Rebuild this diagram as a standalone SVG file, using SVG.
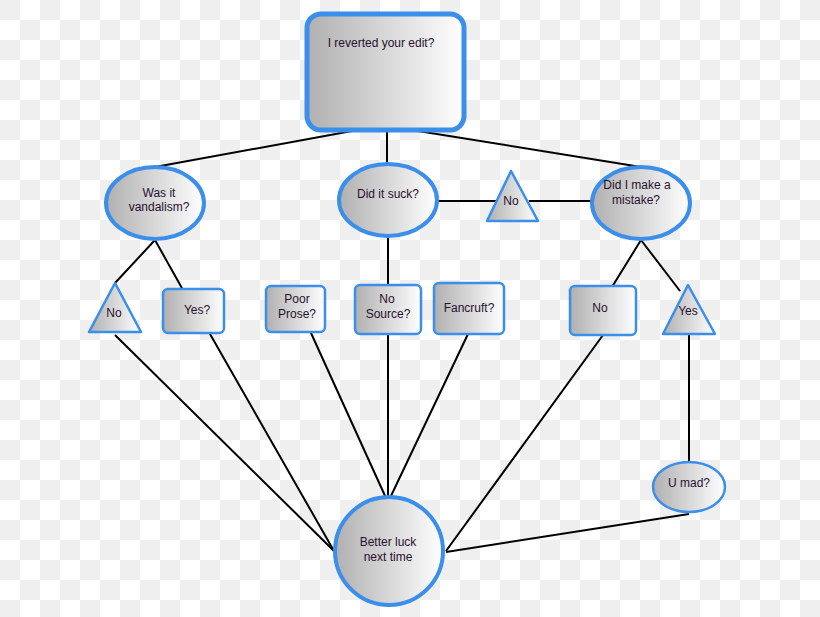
<svg xmlns="http://www.w3.org/2000/svg" width="820" height="617" viewBox="0 0 820 617">
<defs>
<pattern id="cb" width="40" height="40" patternUnits="userSpaceOnUse">
<rect width="40" height="40" fill="#ffffff"/>
<rect width="20" height="20" fill="#efefef"/>
<rect x="20" y="20" width="20" height="20" fill="#efefef"/>
</pattern>
<linearGradient id="g" x1="0" y1="0" x2="1" y2="0">
<stop offset="0" stop-color="#b0b0b0"/>
<stop offset="1" stop-color="#ffffff"/>
</linearGradient>
</defs>
<style>
.n{fill:url(#g);stroke:#3b8fea;stroke-linejoin:round}
.big{stroke-width:5}
.mid{stroke-width:4}
.sm{stroke-width:2.5}
.c line{stroke:#000;stroke-width:2}
text{font-family:"Liberation Sans",Arial,sans-serif;font-size:12px;fill:#2a1030;text-anchor:middle}
</style>
<rect width="820" height="617" fill="url(#cb)"/>
<g id="connectors" class="c">
<line x1="352" y1="131" x2="155" y2="167"/>
<line x1="387" y1="131" x2="387" y2="165"/>
<line x1="418" y1="131" x2="641" y2="167"/>
<line x1="437" y1="201" x2="496" y2="201"/>
<line x1="529" y1="201" x2="592" y2="201"/>
<line x1="155" y1="240" x2="115" y2="283"/>
<line x1="155" y1="240" x2="183" y2="290"/>
<line x1="388" y1="237" x2="388" y2="285"/>
<line x1="641" y1="240" x2="612" y2="287"/>
<line x1="641" y1="240" x2="680" y2="291"/>
<line x1="689" y1="335" x2="689" y2="462"/>
<line x1="115" y1="335" x2="334" y2="551"/>
<line x1="210" y1="334" x2="334" y2="551"/>
<line x1="311" y1="333" x2="386" y2="498"/>
<line x1="388" y1="334" x2="388" y2="498"/>
<line x1="468" y1="334" x2="390" y2="498"/>
<line x1="603" y1="335" x2="446" y2="551"/>
<line x1="689" y1="514" x2="446" y2="552"/>
</g>
<g id="n-revert"><rect class="n big" x="307" y="14" width="157" height="116" rx="14"/><text x="381" y="47">I reverted your edit?</text></g>
<g id="n-vandalism"><ellipse class="n mid" cx="155" cy="203" rx="49" ry="36"/><text x="159" y="197">Was it</text><text x="159" y="211">vandalism?</text></g>
<g id="n-suck"><ellipse class="n mid" cx="388" cy="200" rx="49" ry="36"/><text x="388" y="198">Did it suck?</text></g>
<g id="n-no-mid"><polygon class="n sm" points="511,171 538,221 487,221"/><text x="511" y="205">No</text></g>
<g id="n-mistake"><ellipse class="n mid" cx="641" cy="203" rx="49" ry="36"/><text x="637" y="189">Did I make a</text><text x="636" y="204">mistake?</text></g>
<g id="n-no-left"><polygon class="n sm" points="115,283 141,332 89,332"/><text x="114" y="317">No</text></g>
<g id="n-yes-left"><rect class="n sm" x="163" y="289" width="61" height="44" rx="5"/><text x="197" y="314">Yes?</text></g>
<g id="n-poor"><rect class="n sm" x="266" y="286" width="59" height="46" rx="5"/><text x="297" y="303">Poor</text><text x="297" y="318">Prose?</text></g>
<g id="n-nosource"><rect class="n sm" x="355" y="285" width="66" height="49" rx="5"/><text x="387" y="303">No</text><text x="388" y="318">Source?</text></g>
<g id="n-fancruft"><rect class="n sm" x="434" y="283" width="70" height="51" rx="5"/><text x="469" y="312">Fancruft?</text></g>
<g id="n-no-right"><rect class="n sm" x="570" y="286" width="66" height="49" rx="5"/><text x="600" y="312">No</text></g>
<g id="n-yes-right"><polygon class="n sm" points="688,285 715,334 663,334"/><text x="688" y="315">Yes</text></g>
<g id="n-umad"><ellipse class="n sm" cx="689" cy="487" rx="36" ry="25"/><text x="689" y="487">U mad?</text></g>
<g id="n-better"><circle class="n mid" cx="389" cy="551" r="54"/><text x="388" y="546">Better luck</text><text x="388" y="561">next time</text></g>
</svg>
